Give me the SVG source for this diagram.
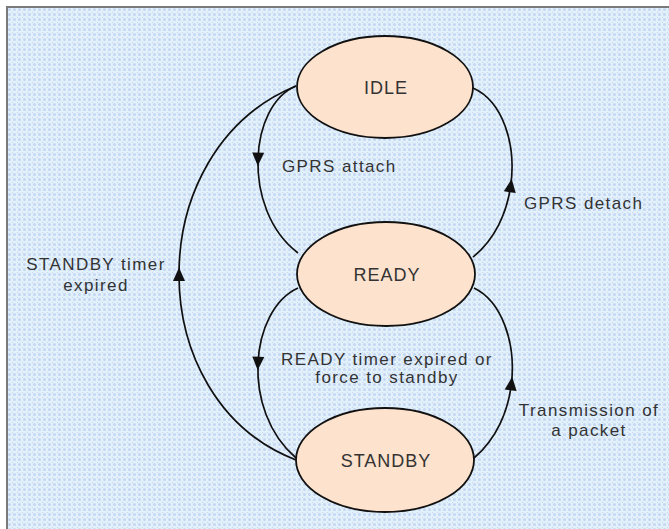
<svg xmlns="http://www.w3.org/2000/svg" width="669" height="529" viewBox="0 0 669 529">
  <style>
    .node { fill: #fde2cd; stroke: #111; stroke-width: 1.8; }
    .nlabel { font-family: "Liberation Sans", Arial, sans-serif; font-size: 18px; fill: #333333; text-anchor: middle; letter-spacing: 1px; }
    .elabel { font-family: "Liberation Sans", Arial, sans-serif; font-size: 17px; fill: #333333; letter-spacing: 1.4px; }
    .edge { fill: none; stroke: #111; stroke-width: 1.7; marker-mid: url(#arrow); }
  </style>
  <defs>
    <pattern id="bgpat" x="7" y="7" width="5" height="5" patternUnits="userSpaceOnUse">
      <rect width="5" height="5" fill="#e1f2fb"/>
      <circle cx="2.5" cy="2.5" r="1.5" fill="#c6d5f3"/>
      <rect x="0" y="0" width="1" height="1" fill="#d6d1eb"/>
    </pattern>
    <marker id="arrow" viewBox="-8 -7 16 14" markerWidth="16" markerHeight="14" refX="0" refY="0" orient="auto" markerUnits="userSpaceOnUse">
      <path d="M -6.5 -6 L 7 0 L -6.5 6 Z" fill="#111"/>
    </marker>
  </defs>
  <rect x="0" y="0" width="669" height="529" fill="#ffffff"/>
  <rect x="7" y="7" width="662" height="522" fill="url(#bgpat)"/>
  <path d="M 7 529 L 7 7 L 669 7" fill="none" stroke="#7a7a7a" stroke-width="2"/>

  <g id="connectors">
    <path id="e-attach" class="edge" d="M 296 86 C 273 95.5, 259 125.3, 258 159.1 C 257 193, 269 231, 298 253"/>
    <path id="e-detach" class="edge" d="M 473 257 C 494.4 240.2, 506.9 213.3, 510.7 185.7 C 516.5 144.3, 502.8 101.2, 473 88"/>
    <path id="e-readytimer" class="edge" d="M 298 288 C 274 299, 259.5 329.5, 258 363.3 C 256.5 397, 268 434, 296 458"/>
    <path id="e-transmission" class="edge" d="M 474 458 C 496.4 438.8, 508.2 411.3, 511.4 383.8 C 516.2 342.5, 501.6 301.2, 474 288"/>
    <path id="e-standbytimer" class="edge" d="M 296 460 C 218 430, 179 352.5, 179 274.5 C 179 196.5, 218 118, 296 86"/>
    <text class="elabel" x="282" y="172">GPRS attach</text>
    <text class="elabel" x="524" y="209">GPRS detach</text>
    <text class="elabel" x="96" y="270" text-anchor="middle">STANDBY timer</text>
    <text class="elabel" x="96" y="291" text-anchor="middle">expired</text>
    <text class="elabel" x="387" y="365" text-anchor="middle">READY timer expired or</text>
    <text class="elabel" x="387" y="383" text-anchor="middle">force to standby</text>
    <text class="elabel" x="589" y="416" text-anchor="middle">Transmission of</text>
    <text class="elabel" x="589" y="436" text-anchor="middle">a packet</text>
  </g>

  <g id="node-idle">
    <ellipse class="node" cx="385" cy="87" rx="88" ry="51"/>
    <text class="nlabel" x="386" y="94">IDLE</text>
  </g>
  <g id="node-ready">
    <ellipse class="node" cx="386" cy="274" rx="89" ry="52"/>
    <text class="nlabel" x="387" y="281">READY</text>
  </g>
  <g id="node-standby">
    <ellipse class="node" cx="385" cy="460" rx="89" ry="52"/>
    <text class="nlabel" x="386" y="467">STANDBY</text>
  </g>
</svg>
